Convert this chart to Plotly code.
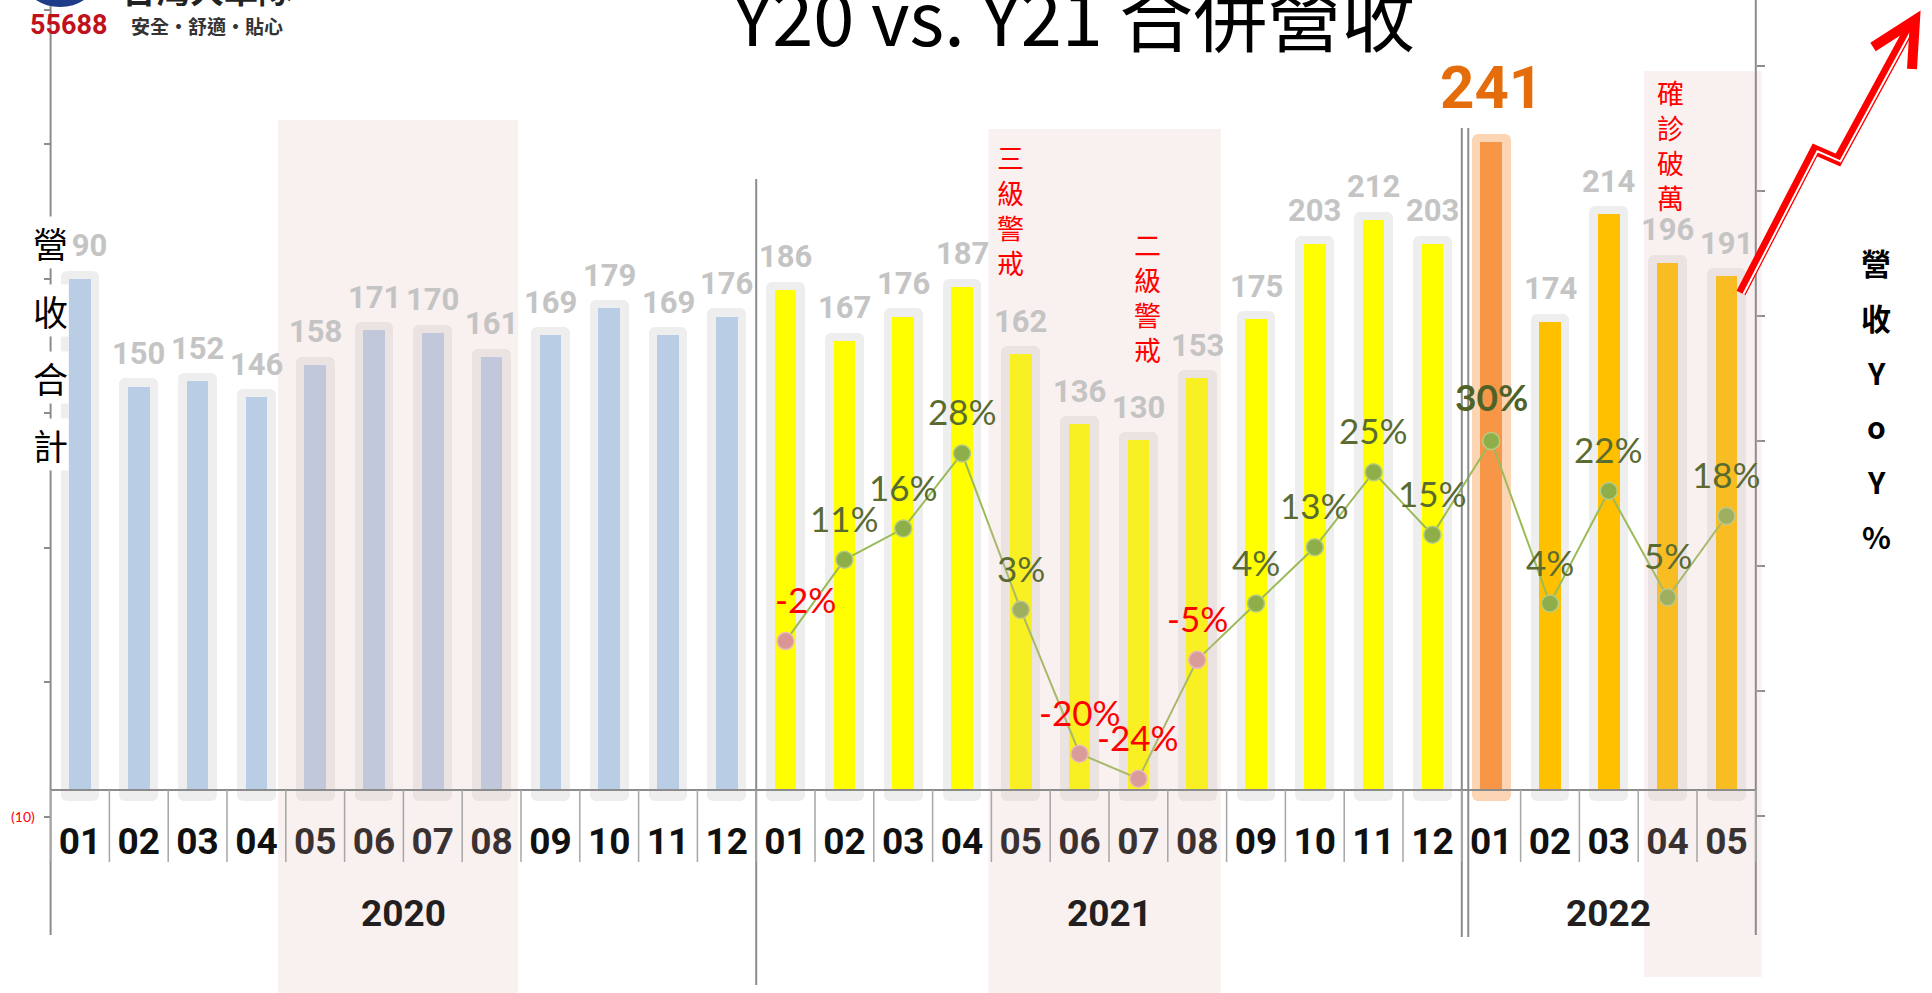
import plotly.graph_objects as go

# ---------------- data ----------------
years = ["2020", "2021", "2022"]
year_months = [
    ["01", "02", "03", "04", "05", "06", "07", "08", "09", "10", "11", "12"],
    ["01", "02", "03", "04", "05", "06", "07", "08", "09", "10", "11", "12"],
    ["01", "02", "03", "04", "05"],
]
revenue_2020 = [190, 150, 152, 146, 158, 171, 170, 161, 169, 179, 169, 176]
revenue_2021 = [186, 167, 176, 187, 162, 136, 130, 153, 175, 203, 212, 203]
revenue_2022 = [241, 174, 214, 196, 191]
yoy_2021 = [-2, 11, 16, 28, 3, -20, -24, -5, 4, 13, 25, 15]
yoy_2022 = [30, 4, 22, 5, 18]
# event notes: (text, year, month)
events = [("三級警戒", "2021", "05"), ("二級警戒", "2021", "07"), ("確診破萬", "2022", "04")]
# shaded periods: (year, first month, last month)
shaded = [("2020", "05", "08"), ("2021", "05", "08"), ("2022", "04", "05")]
title = "Y20 vs. Y21 合併營收"
left_title = "營收合計"
right_title = ["營", "收", "Y", "o", "Y", "%"]
rev_ticks = [-10, 40, 90, 140, 190, 240, 290]
yoy_ticks = [-30, -10, 10, 30, 50, 70, 90]

# ---------------- derived ----------------
months = [m for ms in year_months for m in ms]
year_of = [y for y, ms in zip(years, year_months) for _ in ms]
revenue = revenue_2020 + revenue_2021 + revenue_2022
yoy = yoy_2021 + yoy_2022
n = len(months)
idx = list(range(n))
yoy_x = [i for i in idx if year_of[i] != "2020"]


def pos(year, month):
    return [i for i in idx if year_of[i] == year and months[i] == month][0]


W, H = 1932, 993
X0_PX, DX_PX = 80.0, 58.8          # pixel of first bar centre, bar spacing
REV0_PX, REV_K = 790.0, 2.69       # revenue zero line pixel, px per unit
YOY0_PX, YOY_K = 628.6, 6.255      # yoy zero pixel, px per %

xr = [(0 - X0_PX) / DX_PX, (W - X0_PX) / DX_PX]
yr = [-(H - REV0_PX) / REV_K, REV0_PX / REV_K]
y2r = [-(H - YOY0_PX) / YOY_K, YOY0_PX / YOY_K]


def py(p):
    return 1 - p / H


def pxx(p):
    return p / W


base_color = {"2020": "#b9cde5", "2021": "#ffff00", "2022": "#ffc000"}
hi = revenue.index(max(revenue))
bar_colors = [base_color[y] for y in year_of]
bar_colors[hi] = "#f79646"
cap_colors = ["#eeeeee"] * n
cap_colors[hi] = "#fcd5b5"

CAP_TOP, CAP_BASE = 3, -4

fig = go.Figure()
fig.add_bar(
    x=idx, y=[v + CAP_TOP - CAP_BASE for v in revenue], base=CAP_BASE, width=0.66,
    marker=dict(color=cap_colors, cornerradius=6, line=dict(width=0)), hoverinfo="skip",
)
fig.add_bar(x=idx, y=revenue, width=0.37, marker=dict(color=bar_colors, line=dict(width=0)))
fig.add_scatter(
    x=yoy_x, y=yoy, yaxis="y2", mode="lines+markers",
    line=dict(color="#9bbb59", width=2),
    marker=dict(size=17,
                color=["#8eae4a" if v >= 0 else "#d99694" for v in yoy],
                line=dict(color=["#b7cc84" if v >= 0 else "#ebbcbc" for v in yoy], width=1.5)),
)

shapes = []
# shaded periods
band_px = [(120, H), (129, H), (71, 977)]
band_dx = [(-0.63, 0.45), (-0.55, 0.4), (-0.4, 0.6)]
for (yy, m0, m1), (t, b), (d0, d1) in zip(shaded, band_px, band_dx):
    shapes.append(dict(type="rect", xref="x", yref="paper", x0=pos(yy, m0) + d0, x1=pos(yy, m1) + d1,
                       y0=py(b), y1=py(t), fillcolor="rgba(225,180,178,0.2)", line=dict(width=0),
                       layer="above"))
line_col = "#8c8c8c"
# baseline
shapes.append(dict(type="line", xref="x", yref="y", x0=-0.5, x1=n - 0.5, y0=0, y1=0,
                   line=dict(color=line_col, width=2)))
# left & right axis lines
shapes.append(dict(type="line", xref="x", yref="paper", x0=-0.5, x1=-0.5, y0=py(935), y1=1,
                   line=dict(color=line_col, width=2)))
shapes.append(dict(type="line", xref="x", yref="paper", x0=n - 0.5, x1=n - 0.5, y0=py(935), y1=1,
                   line=dict(color=line_col, width=2)))
# year separators
b1 = len(year_months[0]) - 0.5
b2 = len(year_months[0]) + len(year_months[1]) - 0.5
shapes.append(dict(type="line", xref="x", yref="paper", x0=b1, x1=b1, y0=py(985), y1=py(179),
                   line=dict(color=line_col, width=2)))
for off in (0, 0.11):
    shapes.append(dict(type="line", xref="x", yref="paper", x0=b2 + off, x1=b2 + off, y0=py(937),
                       y1=py(128), line=dict(color=line_col, width=2)))
# month separators
for i in range(n + 1):
    shapes.append(dict(type="line", xref="x", yref="paper", x0=i - 0.5, x1=i - 0.5,
                       y0=py(862), y1=py(REV0_PX), line=dict(color="#a6a6a6", width=1.5)))
# logo swoosh
shapes.append(dict(type="circle", xref="paper", yref="paper", x0=pxx(26), x1=pxx(94),
                   y0=py(7), y1=py(-40), fillcolor="#1f3c88", line=dict(width=0)))


def path(pts, dx=0.0, dy=0.0):
    return "M " + " L ".join(f"{pxx(a + dx):.5f},{py(b + dy):.5f}" for a, b in pts)


arrow = [(1741, 293), (1815, 150), (1838, 160), (1912, 24)]
shapes.append(dict(type="path", xref="paper", yref="paper", path=path(arrow),
                   line=dict(color="#ff0000", width=10)))
shapes.append(dict(type="path", xref="paper", yref="paper", path=path(arrow, 2.4, 1.3),
                   line=dict(color="#ffffff", width=2)))
shapes.append(dict(type="path", xref="paper", yref="paper",
                   path=path([(1873, 47), (1915, 20), (1912, 69)]),
                   line=dict(color="#ff0000", width=10)))

C = dict(xanchor="center", yanchor="middle", showarrow=False)
ann = []
# revenue value labels
for i, v in enumerate(revenue):
    if i == hi:
        ann.append(dict(x=i, y=v, xref="x", yref="y", text=f"<b>{v}</b>", yshift=54,
                        font=dict(family="Roboto", size=60, color="#e46c0a"), **C))
    else:
        ann.append(dict(x=i, y=v, xref="x", yref="y", text=f"<b>{v}</b>", yshift=33,
                        font=dict(family="Roboto", size=31, color="#c4c4c4"), **C))
# yoy labels
for k, (i, v) in enumerate(zip(yoy_x, yoy)):
    is_max = v == max(yoy)
    ann.append(dict(
        x=i, y=v, xref="x", yref="y2", yshift=42 if not is_max else 44,
        xshift=20 if k == 0 else 0,
        text=(f"<b>{v}%</b>" if is_max else f"{v}%"),
        font=dict(family="Lato", size=37 if is_max else 35,
                  color=("#4f6228" if is_max else ("#5a6b32" if v >= 0 else "#ff0000"))),
        **C))
# year labels
start = 0
for yname, ms in zip(years, year_months):
    c = start + (len(ms) - 1) / 2
    start += len(ms)
    ann.append(dict(x=c, y=py(913), xref="x", yref="paper", text=f"<b>{yname}</b>",
                    font=dict(family="Roboto", size=37, color="#231f20"), **C))
# event notes
ev_shift = [-10, 9, 3]
ev_center_px = [210, 297, 145]
for (txt, yy, mm), xs, cy in zip(events, ev_shift, ev_center_px):
    ann.append(dict(x=pos(yy, mm), y=py(cy), xref="x", yref="paper", xshift=xs,
                    text="<br>".join(txt),
                    font=dict(family="Noto Sans CJK TC", size=27, color="#ff0000"), **C))
# left title
for k, ch in enumerate(left_title):
    ann.append(dict(x=pxx(50.5), y=py(243 + 67 * k), xref="paper", yref="paper", text=ch,
                    bgcolor="white", borderpad=0,
                    font=dict(family="Noto Sans CJK TC", size=35, color="#000000"), **C))
# right title
for k, ch in enumerate(right_title):
    ann.append(dict(x=pxx(1876), y=py(262 + 54.8 * k), xref="paper", yref="paper",
                    text=f"<b>{ch}</b>",
                    font=dict(family="Noto Sans CJK TC", size=30, color="#000000"), **C))
# title
ann.append(dict(x=pxx(1073), y=py(14), xref="paper", yref="paper", text=title,
                font=dict(family="Noto Sans CJK TC", size=74, color="#000000"), **C))
# logo texts
ann.append(dict(x=pxx(207), y=py(-12), xref="paper", yref="paper", text="<b>台灣大車隊</b>",
                font=dict(family="Noto Sans CJK TC", size=34, color="#222222"), **C))
ann.append(dict(x=pxx(68), y=py(25), xref="paper", yref="paper", text="<b>55688</b>",
                font=dict(family="Roboto", size=27, color="#c0121c"), **C))
ann.append(dict(x=pxx(207), y=py(25), xref="paper", yref="paper", text="<b>安全・舒適・貼心</b>",
                font=dict(family="Noto Sans CJK TC", size=19, color="#333333"), **C))

fig.update_layout(
    width=W, height=H, margin=dict(l=0, r=0, t=0, b=0, pad=0),
    paper_bgcolor="white", plot_bgcolor="white", showlegend=False,
    barmode="overlay", bargap=0,
    xaxis=dict(range=xr, domain=[0, 1], anchor="free", position=py(REV0_PX),
               showgrid=False, zeroline=False, showline=False, ticks="",
               tickmode="array", tickvals=idx, ticktext=[f"<b>{m}</b>" for m in months],
               tickfont=dict(family="Roboto", size=37, color="#111111"), ticklabelstandoff=26),
    yaxis=dict(range=yr, domain=[0, 1], anchor="free", position=pxx(X0_PX - 0.5 * DX_PX),
               side="left", showgrid=False, zeroline=False, showline=False,
               ticks="outside", ticklen=7, tickwidth=1.5, tickcolor=line_col,
               tickmode="array", tickvals=rev_ticks,
               ticktext=[f"({abs(t)})" if t < 0 else "" for t in rev_ticks],
               tickfont=dict(family="Lato", size=14, color="#ff0000"), ticklabelstandoff=6),
    yaxis2=dict(range=y2r, domain=[0, 1], overlaying="y", anchor="free",
                position=pxx(X0_PX + (n - 0.5) * DX_PX), side="right",
                showgrid=False, zeroline=False, showline=False,
                ticks="outside", ticklen=8, tickwidth=1.5, tickcolor=line_col,
                tickmode="array", tickvals=yoy_ticks, showticklabels=False),
    shapes=shapes, annotations=ann,
)

fig.write_html(
    "out.html",
    config={"displayModeBar": False},
    post_script="document.body.style.margin='0px';document.documentElement.style.overflow='hidden';document.body.style.overflow='hidden';",
)
